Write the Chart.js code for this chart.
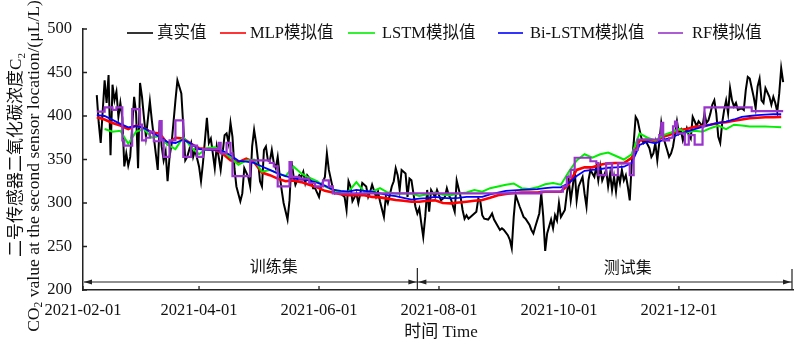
<!DOCTYPE html>
<html><head><meta charset="utf-8">
<script src="https://cdn.jsdelivr.net/npm/chart.js@4"></script>
<style>html,body{margin:0;padding:0;background:#fff}#wrap{width:800px;height:342px}</style>
</head><body><div id="wrap"><canvas id="c" width="800" height="342"></canvas></div>
<script>
// ---- data ----
const tickDays = [0, 59, 120, 181, 242, 303];            // days since 2021-02-01
const tickLabels = ['2021-02-01','2021-04-01','2021-06-01','2021-08-01','2021-10-01','2021-12-01'];
const yTicks = [200, 250, 300, 350, 400, 450, 500];
const seriesNames = ['真实值','MLP模拟值','LSTM模拟值','Bi-LSTM模拟值','RF模拟值'];
const splitDay = 170;
const segmentLabels = ['训练集','测试集'];

const realDays = [
7,8,9,11,12,13,14,15,16,17, 18,19,20,21,22,23,24,26,27,28,
29,30,31,32,34,35,36,37,38,39, 40,41,42,43,44,45,47,48,50,51,
52,53,55,56,57,59,60,61,63,64, 65,67,68,69,70,72,73,74,75,76,
77,78,80,81,82,84,85,86,87,88, 89,90,91,92,93,94,95,96,97,98,
99,100,101,102,104,105,106,107,108,110, 111,112,113,114,116,117,118,120,121,123,
124,125,127,128,130,131,133,134,135,136, 137,139,140,141,142,144,145,146,147,149,
150,151,153,154,155,157,158,159,160,161, 162,164,165,166,167,169,170,171,172,173,
174,175,176,177,179,180,182,184,185,186, 187,189,190,192,193,194,195,196,197,198,
200,201,202,203,204,206,207,208,209,211, 212,213,214,216,217,218,219,220,222,223,
224,225,227,228,229,230,232,233,234,235, 236,237,238,239,240,241,242,243,245,246,
247,248,249,250,251,252,254,255,256,257, 258,260,261,262,263,264,266,267,268,269,
270,271,272,273,274,275,276,277,278,279, 280,281,282,283,284,285,286,288,289,290,
291,292,293,294,295,297,298,299,300,302, 303,304,305,307,308,309,310,311,312,313,
315,316,317,318,319,320,321,322,323,324, 325,326,327,328,329,330,331,332,333,335,
336,337,338,339,341,342,343,344,345,346, 347,349,350,351,352,353,354,355,356];
const realValues = [
424,392,369,441,415,447,355,436,418,428, 399,415,398,342,357,343,353,422,403,340,
438,422,398,376,417,395,376,357,338,394, 365,349,359,325,353,367,418,441,426,388,
349,353,369,353,361,342,325,346,398,369, 374,340,365,353,338,378,380,369,392,376,
340,319,302,311,340,330,319,365,384,369, 349,325,319,361,365,349,348,361,346,340,
353,332,315,300,281,303,348,332,321,332, 330,336,323,332,326,317,317,307,319,330,
357,338,317,311,313,311,307,292,325,319, 302,311,300,311,323,319,307,313,321,307,
313,302,284,307,300,319,325,340,332,315, 338,334,307,328,326,296,288,294,277,261,
284,315,290,315,307,315,303,307,317,309, 305,290,326,307,292,282,286,282,284,286,
290,305,302,286,282,281,284,288,281,273, 269,271,269,263,258,248,284,309,296,290,
284,282,275,269,265,273,288,311,285,245, 265,273,281,271,286,280,300,284,292,311,
326,303,319,338,303,319,330,311,296,326, 338,330,342,326,342,326,338,319,334,315,
330,313,334,323,338,326,332,319,303,346, 369,399,395,384,374,369,372,363,353,357,
369,349,369,392,376,361,353,357,365,394, 380,384,372,386,378,374,399,394,388,394,
388,403,392,395,403,413,418,403,376,369, 392,407,418,403,432,418,411,415,407,409,
407,430,445,443,422,409,434,443,418,415, 432,422,413,422,415,405,426,455,439];

const modelDays = [
7,11,15,19,23,27,31,35,39,43, 47,51,55,59,63,67,71,75,79,83,
87,91,95,99,103,107,111,115,119,123, 127,131,135,139,143,147,151,155,159,163,
167,171,175,179,183,187,191,195,199,203, 207,211,215,219,223,227,231,235,239,243,
247,251,255,259,263,267,271,275,279,283, 287,291,295,299,303,307,311,315,319,323,
327,331,335,339,343,347,351,355];
const mlpValues = [
398.5,396,392,389,385,389,386,381,380,368, 375,374,368,363,362,361,357,349,347,351,
347,335,332,328,325,326,324,321,318,314, 312,310,309,309,309,307,306.5,305,303.5,302.5,
301.5,301.5,302.5,303,300,299.6,300.5,301.5,302.5,303.4, 306,309,310.5,311.5,312,312,312,313,313,313,
322,338,341,341,344,345.6,346,346,352,372, 373,371,376,379,384,385,387.5,388.5,390,392,
393,394.5,396,397.5,398,398.5,398.5,399];
const lstmValues = [
null,385,382,383,368,382,385,375,377,367, 362,376,364,356,363,364,360,352,344,349,
350,336,338,334,331,342,334,329,325,319, 315,313,313,324,313,313,317,312,311,311,
311,308,310,312,309.5,309,311,312,315,313, 317,319,321,322.5,317,316,318,321.5,323,321,
336,349,356,352,356,358,354,350,356,380, 375,372,378,381,385,381,383,382,386,389,
385,390,389,388,388,388,387.5,387];
const bilstmValues = [
401,400,395.5,391,387,388.5,386,381,376,370, 369,373,368,362,361,361,360,355,348.5,347.5,
346,342,338,334,331,328.5,327,326,323.5,320, 315.5,314,313,315,314,313,311,309,308,306,
304,305,305.5,307,306,305.4,306,307,307,307, 310,312,314,314.5,315,315.5,316,317,318,318,
323,331,337,338,339,340.5,341,341.7,346,366.7, 370.5,368.6,372.5,375,379,382,385,387.5,390,392,
393.5,396,399,400,401,401.5,402,402];
// RF output is piecewise constant: day where each level starts, and the level
const rfDays = [
7,11,15,17,20,21,25,29,30,32, 34,36,39,40,41,44,47,51,55,58,
61,69,70,73,75,76,85,95,97,99, 105,106,110,115,118,122,125,127,233,244,
246,248,250,258,261,262,266,269,272,278, 280,282,293,294,295,298,300,301,302,306,
308,311,315,316,340,356];
const rfValues = [
405,410,407,410,372,366,408,390,372,375, 382,371,394,372,353,372,395,353,366,353,
362,369,357,369,357,331,349,346,342,319, 347,330,328,323,319,326,319,311,313,319,
330,338,352,348,346,332,345.5,332,345.5,332, 361,373,378,392,372,375,388,393.5,380,367,
378,367,388,410,405.5,405.5];

// ---- chart ----
const FONT = "'Liberation Serif','DejaVu Serif','Noto Sans CJK SC',serif";
const pts = (xs, ys) => xs.map((x, i) => ({x: x, y: ys[i]}));
const colors = ['#000000', '#ff0000', '#00ee00', '#0000ff', '#9933cc'];

function drawRuns(ctx, runs, cx, cy, size) {
  let total = 0;
  runs.forEach(r => { ctx.font = (r.sub ? size * 0.65 : size) + 'px ' + FONT; r.w = ctx.measureText(r.t).width; total += r.w; });
  let x = cx - total / 2;
  ctx.textAlign = 'left'; ctx.textBaseline = 'middle';
  runs.forEach(r => {
    ctx.font = (r.sub ? size * 0.65 : size) + 'px ' + FONT;
    ctx.fillText(r.t, x, cy + (r.sub ? size * 0.3 : 0));
    x += r.w;
  });
}

const annot = {
  id: 'annot',
  afterDraw(chart) {
    const {ctx, chartArea: a, scales: {x, y}} = chart;
    ctx.save();
    ctx.strokeStyle = '#222'; ctx.fillStyle = '#222'; ctx.lineWidth = 1.3;
    ctx.beginPath();
    yTicks.forEach(v => { const py = y.getPixelForValue(v); ctx.moveTo(a.left, py); ctx.lineTo(a.left + 4, py); });
    tickDays.forEach(d => { const px = x.getPixelForValue(d); ctx.moveTo(px, a.bottom); ctx.lineTo(px, a.bottom - 4); });
    ctx.stroke();
    const ay = a.bottom - 8;
    const sx = x.getPixelForValue(splitDay);
    const ex = a.right - 1;
    const lx = a.left + 1;
    ctx.lineWidth = 1.2;
    ctx.beginPath();
    ctx.moveTo(lx, ay); ctx.lineTo(ex, ay);
    ctx.moveTo(sx, a.bottom - 22); ctx.lineTo(sx, a.bottom);
    ctx.moveTo(ex, a.bottom - 21); ctx.lineTo(ex, a.bottom);
    ctx.stroke();
    const head = (tx, dir) => {
      ctx.beginPath(); ctx.moveTo(tx, ay); ctx.lineTo(tx - dir * 8, ay - 2.5); ctx.lineTo(tx - dir * 8, ay + 2.5); ctx.closePath(); ctx.fill();
    };
    head(lx, -1); head(sx - 1, 1); head(sx + 1, -1); head(ex - 1, 1);
    ctx.fillStyle = '#111';
    ctx.font = '16px ' + FONT; ctx.textAlign = 'center'; ctx.textBaseline = 'middle';
    ctx.fillText(segmentLabels[0], x.getPixelForValue(97), a.bottom - 22);
    ctx.fillText(segmentLabels[1], x.getPixelForValue(277), a.bottom - 21);
    const lg = [[127,153,157],[220,246,250],[348,375,382],[498,523,530],[658,683,692]];
    const ly = 33;
    lg.forEach((p, i) => {
      ctx.strokeStyle = colors[i]; ctx.lineWidth = 1.6;
      ctx.beginPath(); ctx.moveTo(p[0], ly); ctx.lineTo(p[1], ly); ctx.stroke();
      ctx.fillStyle = '#111'; ctx.font = '16.5px ' + FONT; ctx.textAlign = 'left'; ctx.textBaseline = 'middle';
      ctx.fillText(seriesNames[i], p[2], ly + 1);
    });
    ctx.fillStyle = '#111';
    ctx.font = '17px ' + FONT; ctx.textAlign = 'center'; ctx.textBaseline = 'middle';
    ctx.fillText('时间 Time', (a.left + a.right) / 2 + 3, 333);
    ctx.save(); ctx.translate(17, 155); ctx.rotate(-Math.PI / 2);
    drawRuns(ctx, [{t: '二号传感器二氧化碳浓度C'}, {t: '2', sub: true}], 0, 0, 17);
    ctx.restore();
    ctx.save(); ctx.translate(34, 166); ctx.rotate(-Math.PI / 2);
    drawRuns(ctx, [{t: 'CO'}, {t: '2', sub: true}, {t: ' value at the second sensor location/(μL/L)'}], 0, 0, 17.6);
    ctx.restore();
    ctx.restore();
  }
};

new Chart(document.getElementById('c').getContext('2d'), {
  type: 'line',
  data: {
    datasets: [
      {label: seriesNames[4], data: pts(rfDays, rfValues), borderColor: colors[4], borderWidth: 2.2, stepped: true, order: 0},
      {label: seriesNames[3], data: pts(modelDays, bilstmValues), borderColor: colors[3], borderWidth: 1.8, order: 1},
      {label: seriesNames[2], data: pts(modelDays, lstmValues), borderColor: colors[2], borderWidth: 2, order: 2},
      {label: seriesNames[1], data: pts(modelDays, mlpValues), borderColor: colors[1], borderWidth: 2.6, order: 3},
      {label: seriesNames[0], data: pts(realDays, realValues), borderColor: colors[0], borderWidth: 2, order: 4}
    ]
  },
  options: {
    responsive: false, animation: false, devicePixelRatio: 1,
    elements: {point: {radius: 0}, line: {tension: 0, fill: false}},
    layout: {padding: {top: 29, right: 7, bottom: 0, left: 0}},
    plugins: {legend: {display: false}, tooltip: {enabled: false}},
    scales: {
      x: {
        type: 'linear', min: 0, max: 361,
        grid: {display: false, drawTicks: false},
        border: {display: true, color: '#222', width: 1.5},
        afterBuildTicks: s => { s.ticks = tickDays.map(v => ({value: v})); },
        ticks: {autoSkip: false, maxRotation: 0, padding: 11, color: '#111',
                font: {family: FONT, size: 16.5}, callback: (v, i) => tickLabels[i]},
        afterFit: s => { s.height = 52; }
      },
      y: {
        type: 'linear', min: 200, max: 500,
        grid: {display: false, drawTicks: false},
        border: {display: true, color: '#222', width: 1.5},
        afterBuildTicks: s => { s.ticks = yTicks.map(v => ({value: v})); },
        ticks: {padding: 11, color: '#111', font: {family: FONT, size: 16.5}},
        afterFit: s => { s.width = 83; }
      }
    }
  },
  plugins: [annot]
});
</script>
</body></html>
